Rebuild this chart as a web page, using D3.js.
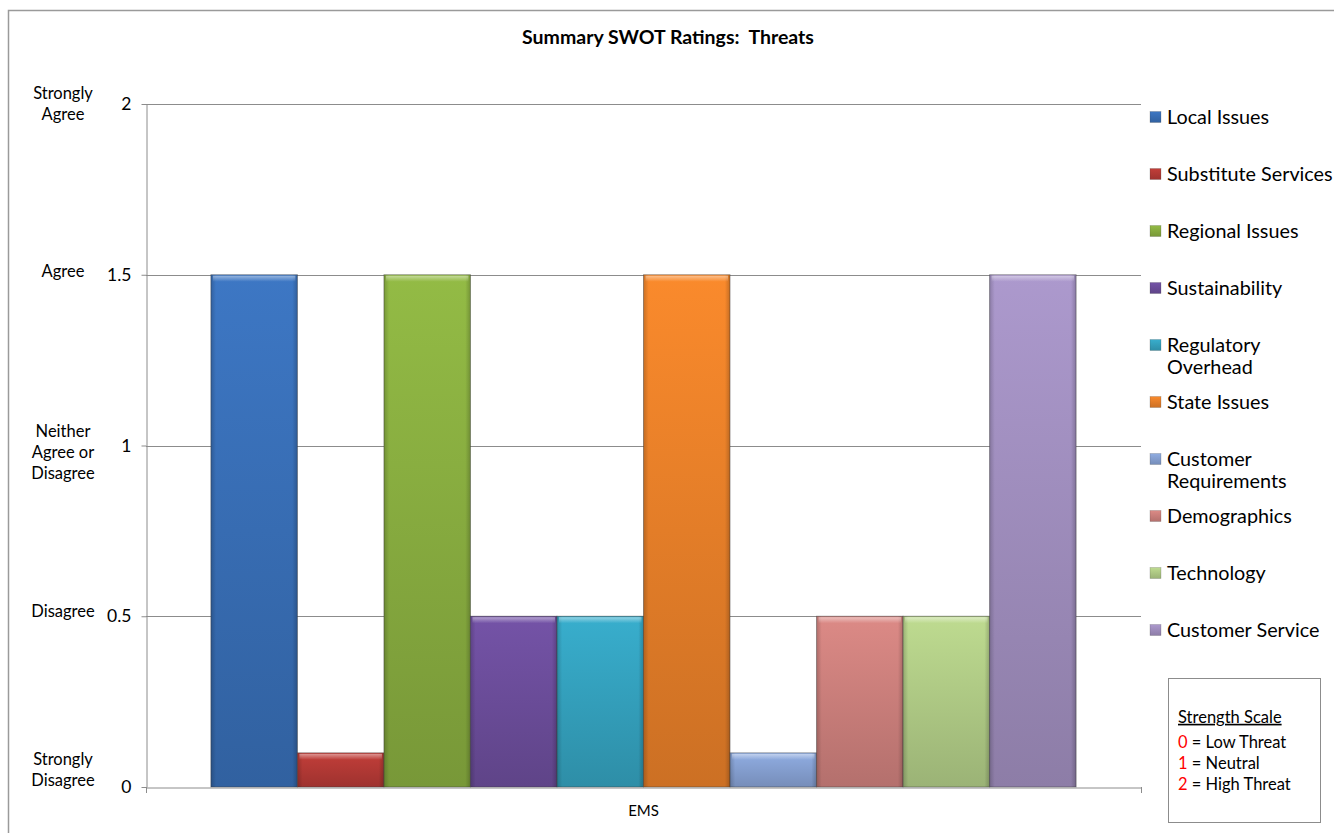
<!DOCTYPE html>
<html>
<head>
<meta charset="utf-8">
<script src="https://cdn.jsdelivr.net/npm/d3@7"></script>
<style>
  html, body { margin: 0; padding: 0; background: #ffffff; }
  svg { display: block; font-family: Lato, "Open Sans", sans-serif; }
</style>
</head>
<body>
<svg id="chart" width="1334" height="833"></svg>
<script>
// Threat ratings for the EMS group, one bar per threat area
const categories = ["EMS"];
const seriesNames = [
  "Local Issues", "Substitute Services", "Regional Issues", "Sustainability",
  "Regulatory Overhead", "State Issues", "Customer Requirements",
  "Demographics", "Technology", "Customer Service"
];
const seriesValues = [1.5, 0.1, 1.5, 0.5, 0.5, 1.5, 0.1, 0.5, 0.5, 1.5];
const seriesColors = [
  "#3A72BC", "#BA3B37", "#8DB342", "#6F50A0", "#36A7C4",
  "#F0842A", "#8AA6D9", "#D38480", "#B6D28A", "#A593C4"
];
// Legend lines (long names wrap onto two lines)
const legendLines = [
  ["Local Issues"], ["Substitute Services"], ["Regional Issues"], ["Sustainability"],
  ["Regulatory", "Overhead"], ["State Issues"], ["Customer", "Requirements"],
  ["Demographics"], ["Technology"], ["Customer Service"]
];
const yTicks = [0, 0.5, 1, 1.5, 2];
const yTickText = ["0", "0.5", "1", "1.5", "2"];
const agreeLabels = [
  ["Strongly", "Disagree"], ["Disagree"], ["Neither", "Agree or", "Disagree"],
  ["Agree"], ["Strongly", "Agree"]
];
const scaleTitle = "Strength Scale";
const scaleKeys = ["0", "1", "2"];
const scaleMeanings = ["= Low Threat", "= Neutral", "= High Threat"];
const chartTitle = "Summary SWOT Ratings:  Threats";

const svg = d3.select("#chart");
const plot = { left: 146, right: 1141, top: 104, bottom: 787 };
const gapWidth = 1.5; // gap between category groups, in bar widths

const x0 = d3.scaleBand()
  .domain(categories)
  .range([plot.left, plot.right])
  .paddingInner(0)
  .paddingOuter((gapWidth / 2) / seriesNames.length);
const x1 = d3.scaleBand()
  .domain(seriesNames)
  .range([0, x0.bandwidth()]);
const y = d3.scaleLinear().domain([0, 2]).range([plot.bottom, plot.top]);

// Outer chart frame
svg.append("rect")
  .attr("x", 8.5).attr("y", 10.5)
  .attr("width", 1400).attr("height", 900)
  .attr("fill", "none").attr("stroke", "#9a9a9a").attr("stroke-width", 1.5);

// Gradients for the bevelled bars
const defs = svg.append("defs");
seriesColors.forEach((c, i) => {
  const base = d3.color(c);
  const g = defs.append("linearGradient")
    .attr("id", "bar" + i).attr("x1", 0).attr("y1", 0).attr("x2", 0).attr("y2", 1);
  g.append("stop").attr("offset", "0%").attr("stop-color", base.brighter(0.12));
  g.append("stop").attr("offset", "100%").attr("stop-color", base.darker(0.45));
});
const side = defs.append("linearGradient")
  .attr("id", "sideShade").attr("x1", 0).attr("y1", 0).attr("x2", 1).attr("y2", 0);
side.append("stop").attr("offset", "0%").attr("stop-color", "#000").attr("stop-opacity", 0.18);
side.append("stop").attr("offset", "6%").attr("stop-color", "#000").attr("stop-opacity", 0);
side.append("stop").attr("offset", "94%").attr("stop-color", "#000").attr("stop-opacity", 0);
side.append("stop").attr("offset", "100%").attr("stop-color", "#000").attr("stop-opacity", 0.2);
const topHi = defs.append("linearGradient")
  .attr("id", "topHi").attr("x1", 0).attr("y1", 0).attr("x2", 0).attr("y2", 1);
topHi.append("stop").attr("offset", "0%").attr("stop-color", "#fff").attr("stop-opacity", 0.45);
topHi.append("stop").attr("offset", "100%").attr("stop-color", "#fff").attr("stop-opacity", 0);

// Gridlines
svg.append("g").selectAll("line").data(yTicks.filter(d => d > 0)).join("line")
  .attr("x1", plot.left).attr("x2", plot.right)
  .attr("y1", d => Math.round(y(d)) + 0.5).attr("y2", d => Math.round(y(d)) + 0.5)
  .attr("stroke", "#8c8c8c").attr("stroke-width", 1);

// Bars
const bars = svg.append("g").selectAll("g.bar")
  .data(categories.flatMap(cat => seriesNames.map((s, i) => ({ cat, s, i, v: seriesValues[i] }))))
  .join("g").attr("class", "bar");
bars.append("rect")
  .attr("x", d => x0(d.cat) + x1(d.s))
  .attr("y", d => y(d.v))
  .attr("width", x1.bandwidth())
  .attr("height", d => y(0) - y(d.v))
  .attr("fill", d => `url(#bar${d.i})`)
  .attr("stroke", "rgba(60,60,60,0.45)").attr("stroke-width", 1);
bars.append("rect")
  .attr("x", d => x0(d.cat) + x1(d.s))
  .attr("y", d => y(d.v))
  .attr("width", x1.bandwidth())
  .attr("height", d => y(0) - y(d.v))
  .attr("fill", "url(#sideShade)");
bars.append("rect")
  .attr("x", d => x0(d.cat) + x1(d.s) + 2)
  .attr("y", d => y(d.v) + 1)
  .attr("width", x1.bandwidth() - 4)
  .attr("height", 6)
  .attr("fill", "url(#topHi)");

// Value axis
const yAxis = svg.append("g")
  .attr("transform", `translate(${plot.left + 0.5},0)`)
  .call(d3.axisLeft(y).tickValues(yTicks).tickFormat((d, i) => yTickText[i]).tickSizeInner(5).tickSizeOuter(0).tickPadding(10));
yAxis.select(".domain").attr("stroke", "#8c8c8c");
yAxis.selectAll(".tick line").attr("stroke", "#8c8c8c");
yAxis.selectAll(".tick text").attr("font-size", 17.5).attr("fill", "#000").attr("font-family", "Lato, sans-serif");

// Category axis
const xAxis = svg.append("g")
  .attr("transform", `translate(0,${plot.bottom + 0.5})`)
  .call(d3.axisBottom(x0).tickSize(0).tickPadding(18));
xAxis.select(".domain").attr("stroke", "#8c8c8c");
xAxis.selectAll(".tick text").attr("font-size", 15).attr("fill", "#000").attr("font-family", "Lato, sans-serif");
svg.append("g").selectAll("line").data([plot.left, plot.right]).join("line")
  .attr("x1", d => d + 0.5).attr("x2", d => d + 0.5)
  .attr("y1", plot.bottom).attr("y2", plot.bottom + 6)
  .attr("stroke", "#8c8c8c");

// Agreement wording beside the value ticks
const agreeNudge = [-17, -5, 7, -4, 0];
const lineH = 21;
svg.append("g").selectAll("text").data(agreeLabels).join("text")
  .attr("text-anchor", "middle")
  .attr("font-size", 16.5).attr("fill", "#000")
  .each(function (lines, i) {
    const cy = y(yTicks[i]) + agreeNudge[i];
    const start = cy - (lines.length - 1) * lineH / 2;
    d3.select(this).selectAll("tspan").data(lines).join("tspan")
      .attr("x", 63).attr("y", (d, k) => start + k * lineH).attr("dy", "0.35em")
      .text(d => d);
  });

// Title
svg.append("text")
  .attr("x", 668).attr("y", 37).attr("dy", "0.35em")
  .attr("text-anchor", "middle").attr("font-size", 19.5).attr("font-weight", "bold")
  .style("white-space", "pre")
  .text(chartTitle);

// Legend
const legend = svg.append("g");
const legendStep = 57;
legendLines.forEach((lines, i) => {
  const cy = 117 + i * legendStep;
  legend.append("rect")
    .attr("x", 1150).attr("y", cy - 5.5).attr("width", 11).attr("height", 11)
    .attr("fill", `url(#bar${i})`).attr("stroke", "rgba(60,60,60,0.35)").attr("stroke-width", 0.6);
  legend.append("text")
    .attr("font-size", 19.8).attr("fill", "#000")
    .selectAll("tspan").data(lines).join("tspan")
    .attr("x", 1167).attr("y", (d, k) => cy + k * 22.5).attr("dy", "0.35em")
    .text(d => d);
});

// Strength scale key
const key = svg.append("g");
key.append("rect")
  .attr("x", 1168.5).attr("y", 678.5).attr("width", 152).attr("height", 144)
  .attr("fill", "#fff").attr("stroke", "#8c8c8c").attr("stroke-width", 1);
key.append("text")
  .attr("x", 1178).attr("y", 717).attr("dy", "0.35em")
  .attr("font-size", 16.5).attr("text-decoration", "underline")
  .text(scaleTitle);
scaleKeys.forEach((k, i) => {
  const t = key.append("text")
    .attr("x", 1178).attr("y", 742 + i * 21).attr("dy", "0.35em").attr("font-size", 16.5);
  t.append("tspan").attr("fill", "#ff0000").text(k);
  t.append("tspan").attr("fill", "#000").text(" " + scaleMeanings[i]);
});
</script>
</body>
</html>
